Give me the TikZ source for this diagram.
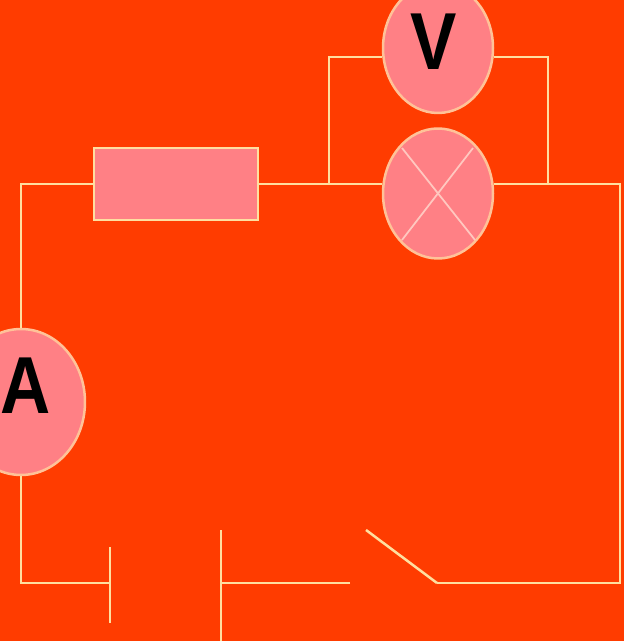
\documentclass[tikz,border=0pt]{standalone}
\usepackage{fontspec}
\setmainfont{Liberation Sans}
\usepackage{tikz}
\usetikzlibrary{shapes.geometric}
\definecolor{backred}{HTML}{FF3C00}
\definecolor{partpink}{HTML}{FF8085}
\definecolor{wirecream}{HTML}{FFDFA0}
\definecolor{crosspink}{HTML}{FFC8C0}
\tikzset{
    wire/.style={draw=wirecream,line width=0.05cm},
    meter/.style={ellipse,draw=wirecream!70!partpink,fill=partpink,line width=0.05cm,
        inner sep=0pt,minimum width=2.2cm,minimum height=2.6cm},
    letter/.style={font=\fontsize{46}{46}\selectfont\bfseries,text=black,inner sep=0pt,xscale=0.86}
}

\begin{document}
\begin{tikzpicture}[x=0.02cm,y=-0.02cm]
    \useasboundingbox (0,0) rectangle (624,641);
    \clip (0,0) rectangle (624,641);
    \fill[backred] (0,0) rectangle (624,641);

    \coordinate (c1) at (21,184);
    \coordinate (c2) at (329,184);
    \coordinate (c3) at (329,57);
    \coordinate (c4) at (548,57);
    \coordinate (c5) at (548,184);
    \coordinate (c6) at (620,184);
    \coordinate (c7) at (620,583);
    \coordinate (c8) at (437,583);
    \coordinate (c9) at (366,530);
    \coordinate (c10) at (350,583);
    \coordinate (c11) at (21,583);
    \coordinate (b1) at (110,583);
    \coordinate (b2) at (221,583);

    % parts
    \node[draw=wirecream,fill=partpink,line width=0.05cm,minimum width=3.28cm,minimum height=1.44cm,inner sep=0pt] (res) at (176,184) {};
    \node[meter] (lamp) at (438,193.5) {};
    \node[meter] (volt) at (438,48) {};
    \node[meter,minimum width=2.56cm,minimum height=2.92cm] (amp) at (21,402) {};
    \node[letter] (vtext) at (434,42) {V};
    \node[letter] (atext) at (26,386) {A};

    % lamp cross
    \coordinate (x1) at (402,148);
    \coordinate (x2) at (475,240);
    \coordinate (x3) at (473,148);
    \coordinate (x4) at (402,240);
    \draw[crosspink,line width=0.035cm] (x1) -- (x2);
    \draw[crosspink,line width=0.035cm] (x3) -- (x4);

    % wires
    \draw[wire] (amp.north) -- (c1) -- (res.west);
    \draw[wire] (res.east) -- (lamp.west |- c2);
    \draw[wire] (c2) -- (c3) -- (volt.west |- c3);
    \draw[wire] (volt.east |- c4) -- (c4) -- (c5);
    \draw[wire] (lamp.east |- c5) -- (c6) -- (c7) -- (c8);
    \draw[wire] (c8) -- (c9);
    \draw[wire] (c10) -- (b2);
    \draw[wire] (amp.south) -- (c11) -- (b1);

    % battery plates
    \coordinate (p1) at (110,547);
    \coordinate (p2) at (110,623);
    \coordinate (p3) at (221,530);
    \coordinate (p4) at (221,641);
    \draw[wire] (p1) -- (p2);
    \draw[wire] (p3) -- (p4);
\end{tikzpicture}
\end{document}
